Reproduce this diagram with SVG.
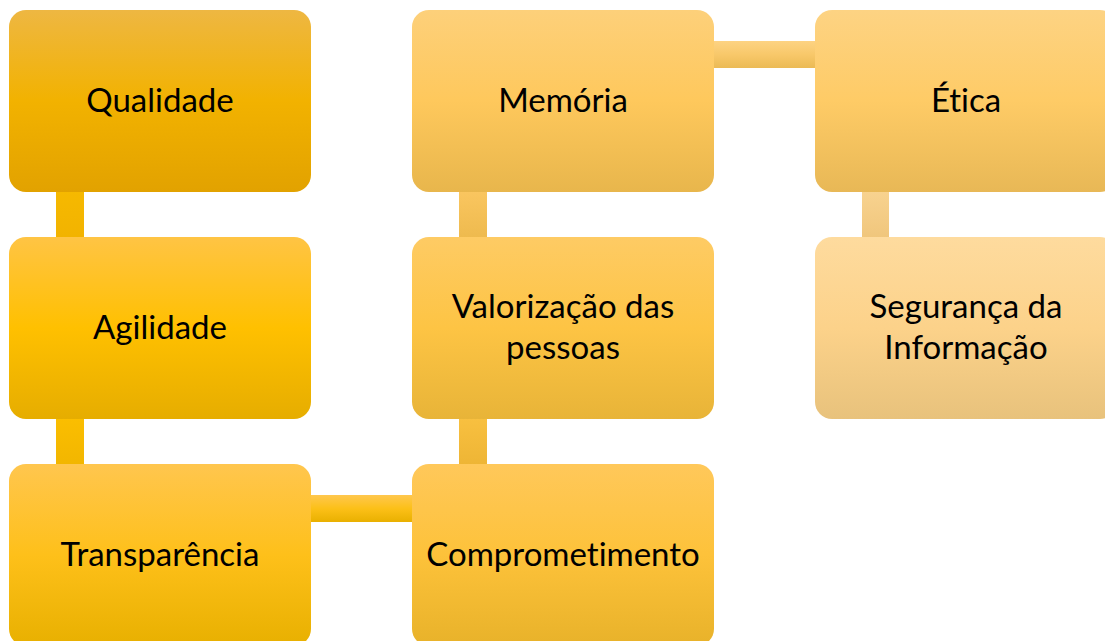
<svg xmlns="http://www.w3.org/2000/svg" width="1105" height="641" viewBox="0 0 1105 641">
<defs>
<linearGradient id="g1" x1="0" y1="0" x2="0" y2="1"><stop offset="0" stop-color="#EEB742"/><stop offset="0.5" stop-color="#F2B200"/><stop offset="1" stop-color="#E2A200"/></linearGradient>
<linearGradient id="g2" x1="0" y1="0" x2="0" y2="1"><stop offset="0" stop-color="#FFC444"/><stop offset="0.5" stop-color="#FFC000"/><stop offset="1" stop-color="#E6AD00"/></linearGradient>
<linearGradient id="g3" x1="0" y1="0" x2="0" y2="1"><stop offset="0" stop-color="#FFC64E"/><stop offset="0.5" stop-color="#FEC01A"/><stop offset="1" stop-color="#E8B000"/></linearGradient>
<linearGradient id="g4" x1="0" y1="0" x2="0" y2="1"><stop offset="0" stop-color="#FFC85A"/><stop offset="0.5" stop-color="#FDC23A"/><stop offset="1" stop-color="#E8B22A"/></linearGradient>
<linearGradient id="g5" x1="0" y1="0" x2="0" y2="1"><stop offset="0" stop-color="#FECB64"/><stop offset="0.5" stop-color="#FDC444"/><stop offset="1" stop-color="#E8B438"/></linearGradient>
<linearGradient id="g6" x1="0" y1="0" x2="0" y2="1"><stop offset="0" stop-color="#FDD07A"/><stop offset="0.5" stop-color="#FEC85C"/><stop offset="1" stop-color="#E8B64C"/></linearGradient>
<linearGradient id="g7" x1="0" y1="0" x2="0" y2="1"><stop offset="0" stop-color="#FDD383"/><stop offset="0.5" stop-color="#FECB66"/><stop offset="1" stop-color="#E8B856"/></linearGradient>
<linearGradient id="g8" x1="0" y1="0" x2="0" y2="1"><stop offset="0" stop-color="#FEDB9E"/><stop offset="0.5" stop-color="#FCD28A"/><stop offset="1" stop-color="#E8C27C"/></linearGradient>
<linearGradient id="c1" x1="0" y1="0" x2="0" y2="1"><stop offset="0" stop-color="#F6B900"/><stop offset="1" stop-color="#F2B300"/></linearGradient>
<linearGradient id="c2" x1="0" y1="0" x2="0" y2="1"><stop offset="0" stop-color="#FBBE00"/><stop offset="1" stop-color="#F2B600"/></linearGradient>
<linearGradient id="c3" x1="0" y1="0" x2="0" y2="1"><stop offset="0" stop-color="#FFC74E"/><stop offset="0.5" stop-color="#FCC018"/><stop offset="1" stop-color="#E9B000"/></linearGradient>
<linearGradient id="c4" x1="0" y1="0" x2="0" y2="1"><stop offset="0" stop-color="#F8C040"/><stop offset="1" stop-color="#EEB535"/></linearGradient>
<linearGradient id="c5" x1="0" y1="0" x2="0" y2="1"><stop offset="0" stop-color="#FAC660"/><stop offset="1" stop-color="#EEBA4E"/></linearGradient>
<linearGradient id="c6" x1="0" y1="0" x2="0" y2="1"><stop offset="0" stop-color="#FDD383"/><stop offset="0.5" stop-color="#F8C86A"/><stop offset="1" stop-color="#EBBA55"/></linearGradient>
<linearGradient id="c7" x1="0" y1="0" x2="0" y2="1"><stop offset="0" stop-color="#F8D390"/><stop offset="1" stop-color="#F0C67C"/></linearGradient>
</defs>
<style>
text{font-family:Lato,"Open Sans","Liberation Sans",sans-serif;font-size:33px;fill:#000;text-anchor:middle;font-variant-ligatures:none;font-feature-settings:"liga" 0,"clig" 0}
</style>
<rect width="1105" height="641" fill="#fff"/>
<g id="connectors">
<rect x="56" y="190" width="28" height="48" fill="url(#c1)"/>
<rect x="56" y="418" width="28" height="47" fill="url(#c2)"/>
<rect x="310" y="495" width="103" height="27" fill="url(#c3)"/>
<rect x="459" y="418" width="28" height="47" fill="url(#c4)"/>
<rect x="459" y="190" width="28" height="48" fill="url(#c5)"/>
<rect x="713" y="41" width="103" height="27" fill="url(#c6)"/>
<rect x="862" y="190" width="27" height="48" fill="url(#c7)"/>
</g>
<g id="qualidade"><rect x="9" y="10" width="302" height="182" rx="17" fill="url(#g1)"/><text x="160" y="112">Qualidade</text></g>
<g id="agilidade"><rect x="9" y="237" width="302" height="182" rx="17" fill="url(#g2)"/><text x="160" y="339">Agilidade</text></g>
<g id="transparencia"><rect x="9" y="464" width="302" height="182" rx="17" fill="url(#g3)"/><text x="160" y="566">Transparência</text></g>
<g id="comprometimento"><rect x="412" y="464" width="302" height="182" rx="17" fill="url(#g4)"/><text x="563" y="566">Comprometimento</text></g>
<g id="valorizacao"><rect x="412" y="237" width="302" height="182" rx="17" fill="url(#g5)"/><text x="563" y="318">Valorização das</text><text x="563" y="359">pessoas</text></g>
<g id="memoria"><rect x="412" y="10" width="302" height="182" rx="17" fill="url(#g6)"/><text x="563" y="112">Memória</text></g>
<g id="etica"><rect x="815" y="10" width="302" height="182" rx="17" fill="url(#g7)"/><text x="966" y="112">Ética</text></g>
<g id="seguranca"><rect x="815" y="237" width="302" height="182" rx="17" fill="url(#g8)"/><text x="966" y="318">Segurança da</text><text x="966" y="359">Informação</text></g>
</svg>
